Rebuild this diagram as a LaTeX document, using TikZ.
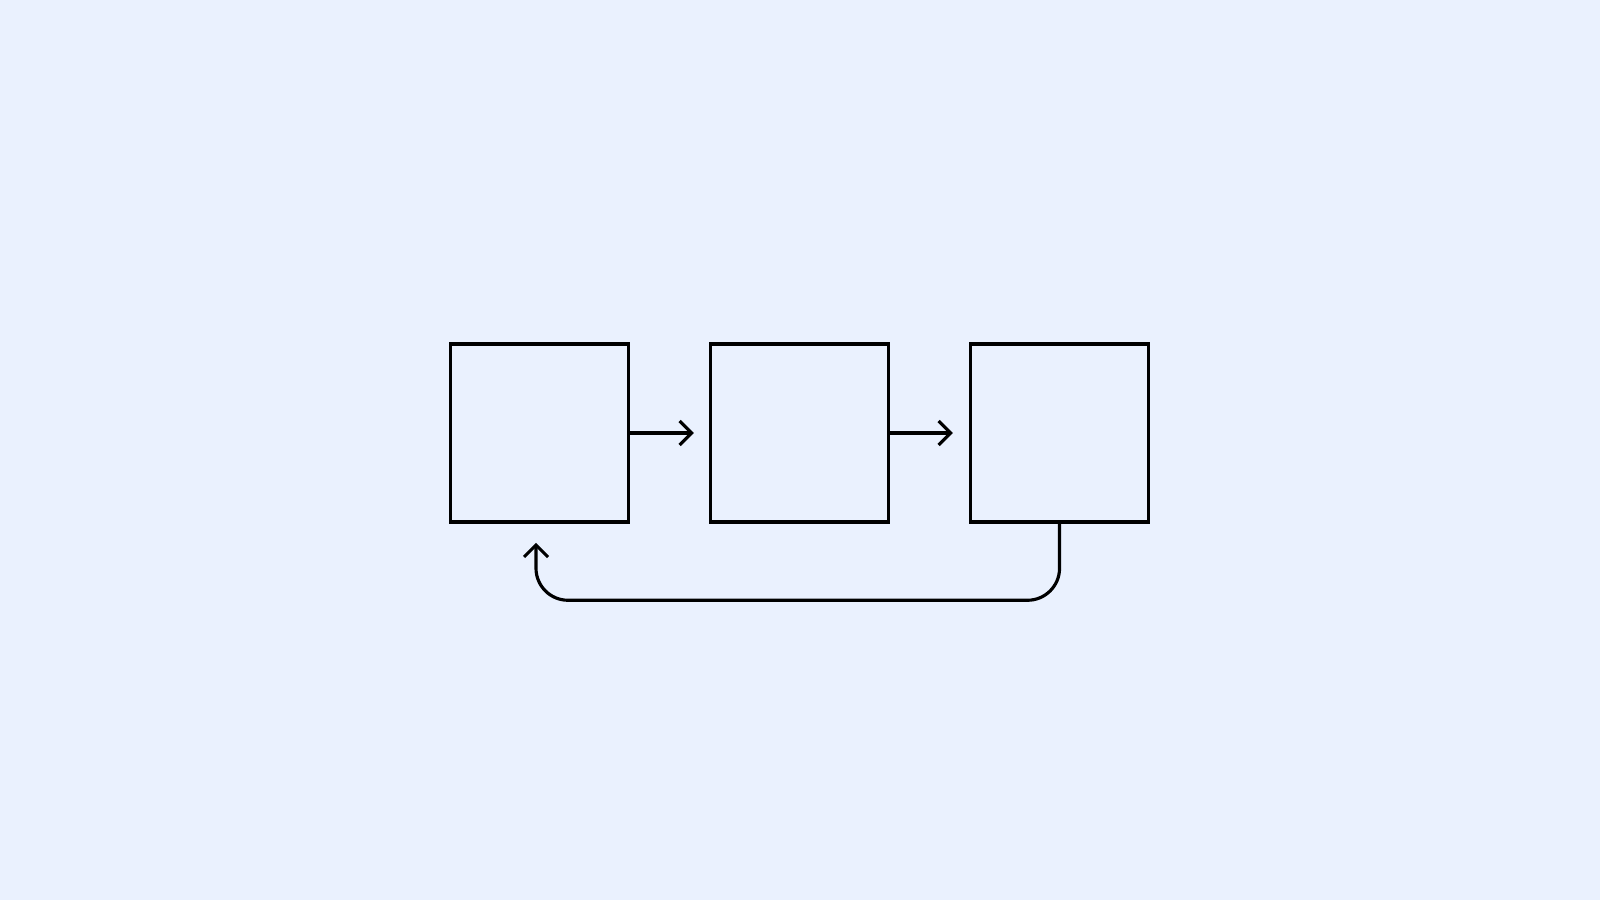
\documentclass[tikz,border=0pt]{standalone}
\usetikzlibrary{positioning,arrows.meta}
\definecolor{bgblue}{RGB}{234,241,254}

\begin{document}
\begin{tikzpicture}[
        stage/.style={draw, line width=1pt, minimum size=1.78cm, inner sep=0pt},
        link/.style={line width=0.9pt, -{Straight Barb[length=1.2mm, width=2.4mm]}},
        node distance=0.785cm
    ]
        \fill [bgblue] (0,0) rectangle (16,9);
        \useasboundingbox (0,0) rectangle (16,9);
        \node [stage] (first) at (5.395,4.67) {};
        \node [stage, right=of first] (second) {};
        \node [stage, right=of second] (third) {};
        \draw [link, shorten >=0.15cm] (first) -- (second);
        \draw [link, shorten >=0.16cm] (second) -- (third);
        \coordinate (back) at ([xshift=-0.035cm]first.south);
        \draw [link, rounded corners=0.32cm, shorten >=0.19cm]
            (third.south) -- ++(0,-0.765) -| (back);
    \end{tikzpicture}
\end{document}
